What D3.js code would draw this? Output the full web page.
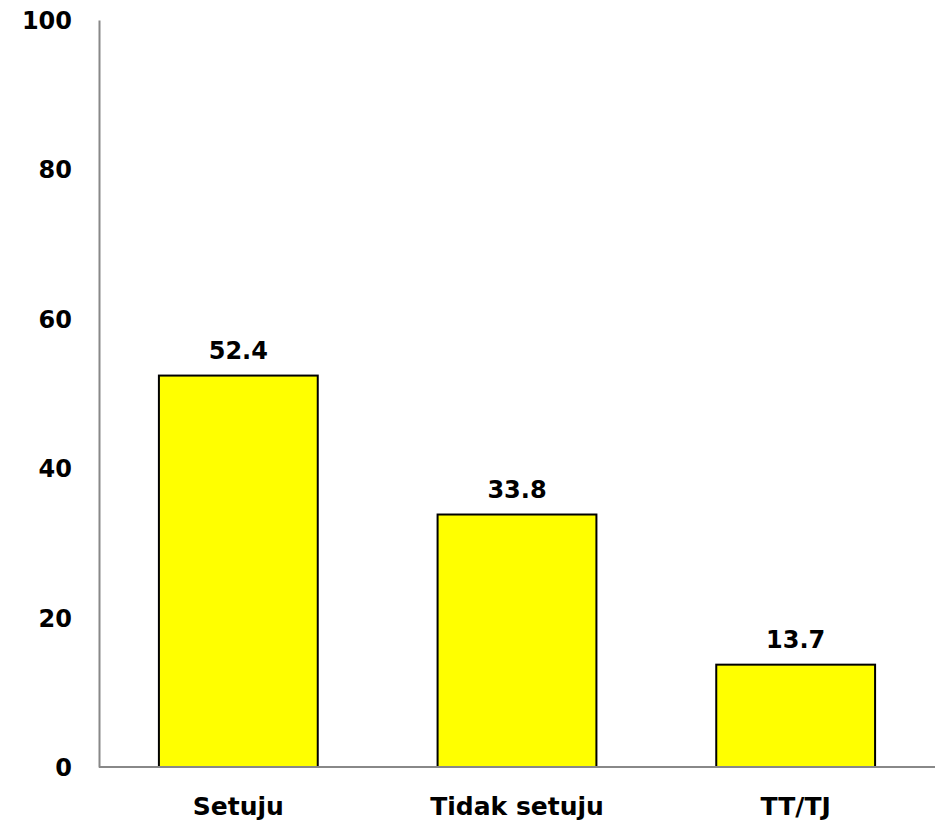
<!DOCTYPE html>
<html>
<head>
<meta charset="utf-8">
<script src="https://cdn.jsdelivr.net/npm/d3@7"></script>
<style>
  body { margin: 0; background: #fff; }
  svg text { font-family: "DejaVu Sans", Verdana, sans-serif; font-weight: bold; fill: #000; }
</style>
</head>
<body>
<div id="chart"></div>
<script>
var categories = ["Setuju", "Tidak setuju", "TT/TJ"];
var values = [52.4, 33.8, 13.7];
var yTicks = [0, 20, 40, 60, 80, 100];

var width = 936, height = 824;
var margin = { top: 20, right: 1, bottom: 57, left: 99 };

var svg = d3.select("#chart").append("svg")
  .attr("width", width)
  .attr("height", height);

var x = d3.scaleBand()
  .domain(categories)
  .range([margin.left, width - margin.right])
  .paddingInner(0.43)
  .paddingOuter(0.215);

var y = d3.scaleLinear()
  .domain([0, 100])
  .range([height - margin.bottom, margin.top]);

var data = categories.map(function(c, i) { return { cat: c, value: values[i] }; });

// bars
svg.append("g")
  .selectAll("rect")
  .data(data)
  .enter().append("rect")
    .attr("x", function(d) { return x(d.cat); })
    .attr("y", function(d) { return y(d.value); })
    .attr("width", x.bandwidth())
    .attr("height", function(d) { return y(0) - y(d.value); })
    .attr("fill", "#ffff00")
    .attr("stroke", "#000")
    .attr("stroke-width", 2);

// value labels
svg.append("g")
  .selectAll("text")
  .data(data)
  .enter().append("text")
    .attr("x", function(d) { return x(d.cat) + x.bandwidth() / 2; })
    .attr("y", function(d) { return y(d.value) - 17; })
    .attr("text-anchor", "middle")
    .attr("font-size", 24)
    .text(function(d) { return d.value.toFixed(1); });

// y axis
var yAxis = svg.append("g")
  .attr("transform", "translate(" + margin.left + ",0)")
  .call(d3.axisLeft(y).tickValues(yTicks).tickSize(0).tickPadding(27));
yAxis.select(".domain").attr("stroke", "#888").attr("stroke-width", 2);
yAxis.selectAll("text").attr("font-size", 24).attr("font-family", null).attr("dy", "0.35em");

// x axis
var xAxis = svg.append("g")
  .attr("transform", "translate(0," + y(0) + ")")
  .call(d3.axisBottom(x).tickSize(0).tickPadding(30));
xAxis.select(".domain").attr("stroke", "#888").attr("stroke-width", 2)
  .attr("d", "M" + margin.left + ",0H" + (width - margin.right));
xAxis.selectAll("text").attr("font-size", 25).attr("font-family", null);
</script>
</body>
</html>
